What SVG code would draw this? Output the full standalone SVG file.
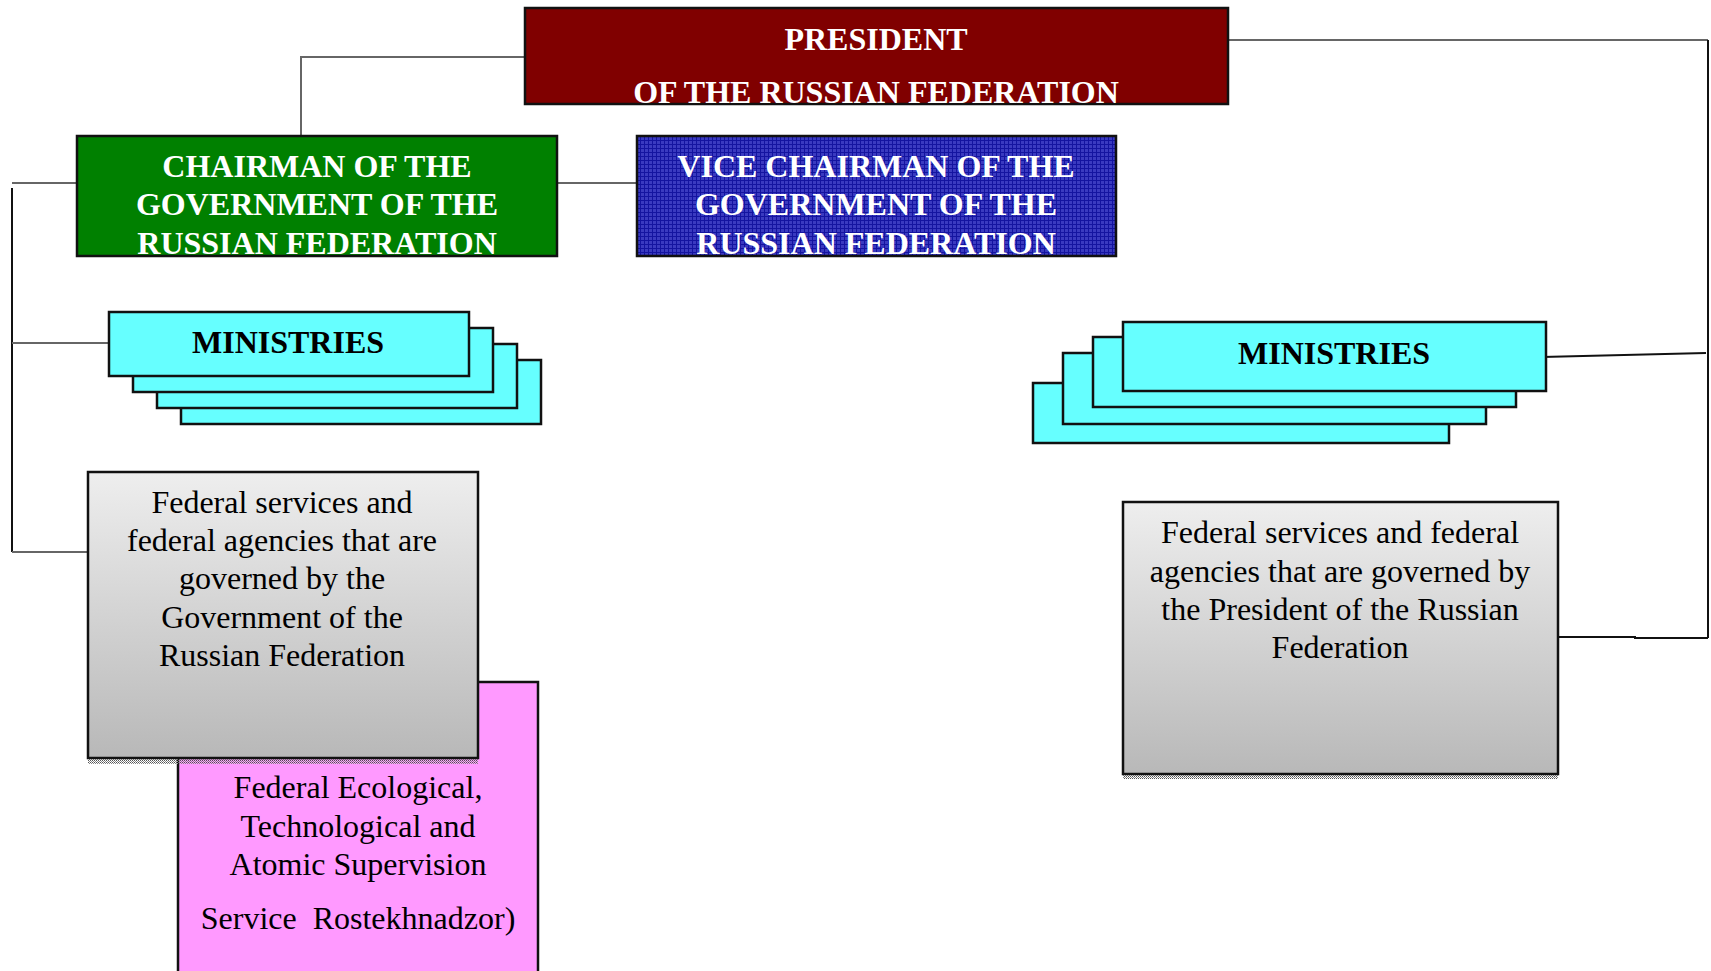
<svg xmlns="http://www.w3.org/2000/svg" width="1711" height="971" viewBox="0 0 1711 971">
<style>
.bt{font-family:"Liberation Serif","Times New Roman",serif;font-weight:bold;font-size:32px;text-anchor:middle}
.rt{font-family:"Liberation Serif","Times New Roman",serif;font-size:32px;text-anchor:middle;fill:#000}
.w{fill:#fff}
.k{fill:#000}
.min{fill:#66ffff;stroke:#111;stroke-width:2.5}
.gl{fill:none;stroke:#666;stroke-width:2}
.bl{fill:none;stroke:#111;stroke-width:2}
.box{stroke:#111;stroke-width:2.5}
</style>
<defs>
<pattern id="grid" width="4" height="4" patternUnits="userSpaceOnUse">
<rect width="4" height="4" fill="#3a3ac0"/>
<rect x="0" y="0" width="4" height="1" fill="#1414a0"/>
<rect x="0" y="0" width="1" height="4" fill="#1414a0"/>
</pattern>
<pattern id="dots" width="2" height="2" patternUnits="userSpaceOnUse">
<rect width="1" height="1" fill="#555"/>
<rect x="1" y="1" width="1" height="1" fill="#888"/>
</pattern>
<linearGradient id="gray" x1="0" y1="0" x2="0" y2="1">
<stop offset="0" stop-color="#eeeeee"/>
<stop offset="1" stop-color="#b8b8b8"/>
</linearGradient>
</defs>

<g id="connectors">
<polyline class="gl" points="524,57 301,57 301,136"/>
<line class="gl" x1="557" y1="183" x2="636" y2="183"/>
<line class="gl" x1="76" y1="183" x2="12" y2="183"/>
<line class="bl" x1="12" y1="188" x2="12" y2="552"/>
<line class="gl" x1="12" y1="343" x2="109" y2="343"/>
<line class="gl" x1="12" y1="552" x2="93" y2="552"/>
<polyline class="gl" points="1229,40 1708,40"/>
<line class="bl" x1="1708" y1="40" x2="1708" y2="638"/>
<polyline class="bl" points="1708,638 1635,638 1635,637 1558,637"/>
<line class="bl" x1="1542" y1="357" x2="1706" y2="353"/>
</g>

<g id="president">
<rect class="box" x="525" y="8" width="703" height="96" fill="#800000"/>
<text class="bt w" x="876" y="50">PRESIDENT</text>
<text class="bt w" x="876" y="103">OF THE RUSSIAN FEDERATION</text>
</g>

<g id="chairman">
<rect class="box" x="77" y="136" width="480" height="120" fill="#008000"/>
<text class="bt w" x="317" y="177">CHAIRMAN OF THE</text>
<text class="bt w" x="317" y="215">GOVERNMENT OF THE</text>
<text class="bt w" x="317" y="254">RUSSIAN FEDERATION</text>
</g>

<g id="vice-chairman">
<rect class="box" x="637" y="136" width="479" height="120" fill="url(#grid)"/>
<text class="bt w" x="876" y="177">VICE CHAIRMAN OF THE</text>
<text class="bt w" x="876" y="215">GOVERNMENT OF THE</text>
<text class="bt w" x="876" y="254">RUSSIAN FEDERATION</text>
</g>

<g id="ministries-gov">
<rect class="min" x="181" y="360" width="360" height="64"/>
<rect class="min" x="157" y="344" width="360" height="64"/>
<rect class="min" x="133" y="328" width="360" height="64"/>
<rect class="min" x="109" y="312" width="360" height="64"/>
<text class="bt k" x="288" y="353">MINISTRIES</text>
</g>

<g id="rostekhnadzor">
<rect class="box" x="178" y="682" width="360" height="292" fill="#ff99ff"/>
<text class="rt" x="358" y="798">Federal Ecological,</text>
<text class="rt" x="358" y="837">Technological and</text>
<text class="rt" x="358" y="875">Atomic Supervision</text>
<text class="rt" x="358" y="929" xml:space="preserve">Service  Rostekhnadzor)</text>
</g>

<g id="services-gov">
<rect x="88" y="758" width="390" height="6" fill="url(#dots)"/>
<rect class="box" x="88" y="472" width="390" height="286" fill="url(#gray)"/>
<text class="rt" x="282" y="513">Federal services and</text>
<text class="rt" x="282" y="551">federal agencies that are</text>
<text class="rt" x="282" y="589">governed by the</text>
<text class="rt" x="282" y="628">Government of the</text>
<text class="rt" x="282" y="666">Russian Federation</text>
</g>

<g id="ministries-pres">
<rect class="min" x="1033" y="383" width="416" height="60"/>
<rect class="min" x="1063" y="353" width="423" height="71"/>
<rect class="min" x="1093" y="337" width="423" height="70"/>
<rect class="min" x="1123" y="322" width="423" height="69"/>
<text class="bt k" x="1334" y="364">MINISTRIES</text>
</g>

<g id="services-pres">
<rect x="1123" y="774" width="435" height="5" fill="url(#dots)"/>
<rect class="box" x="1123" y="502" width="435" height="272" fill="url(#gray)"/>
<text class="rt" x="1340" y="543">Federal services and federal</text>
<text class="rt" x="1340" y="582">agencies that are governed by</text>
<text class="rt" x="1340" y="620">the President of the Russian</text>
<text class="rt" x="1340" y="658">Federation</text>
</g>
</svg>
